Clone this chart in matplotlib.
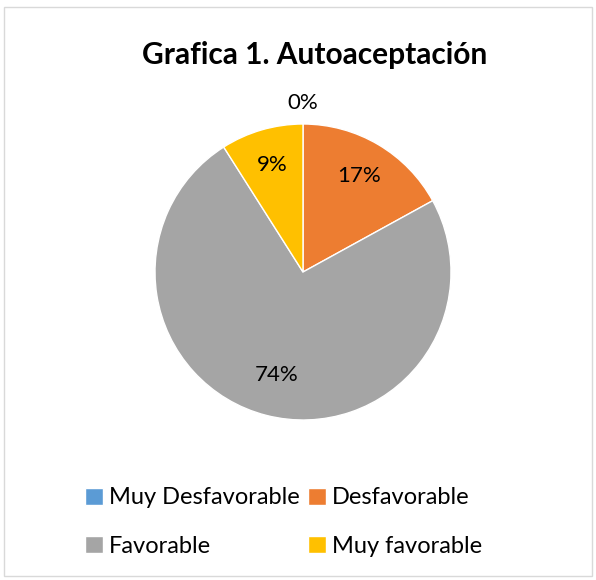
import matplotlib
matplotlib.use("Agg")
import matplotlib.pyplot as plt
from matplotlib.patches import Rectangle
import numpy as np

categories = ["Muy Desfavorable", "Desfavorable", "Favorable", "Muy favorable"]
values = [0, 17, 74, 9]
labels_pct = ["0%", "17%", "74%", "9%"]
colors = ["#5B9BD5", "#ED7D31", "#A5A5A5", "#FFC000"]
title = "Grafica 1. Autoaceptación"

plt.rcParams['font.family'] = ['Lato', 'DejaVu Sans']

W, H = 596, 580
fig = plt.figure(figsize=(W / 100, H / 100), dpi=100)

cx, cy, r = 303, 272, 148
ax = fig.add_axes([(cx - r) / W, (H - cy - r) / H, 2 * r / W, 2 * r / H])
wedges, _ = ax.pie(values, colors=colors, startangle=90, counterclock=False,
                   wedgeprops=dict(edgecolor="white", linewidth=1.0), radius=1)
ax.set_xlim(-1, 1)
ax.set_ylim(-1, 1)
ax.set_aspect("equal")
ax.axis("off")

for w, lab, v in zip(wedges, labels_pct, values):
    ang = np.deg2rad((w.theta1 + w.theta2) / 2)
    d = 0.75 if v > 0 else 1.14
    if v > 50:
        d = 0.72
    ax.text(d * np.cos(ang), d * np.sin(ang), lab, ha="center", va="center",
            fontsize=16, color="#000000", clip_on=False)

fig.text(315 / W, 1 - 55 / H, title, ha="center", va="center",
         fontsize=21.5, fontweight="bold", color="#000000")

order = [0, 2, 1, 3]
fig.legend([wedges[i] for i in order], [categories[i] for i in order],
           loc="upper left", ncol=2,
           bbox_to_anchor=(76 / W, 1 - 478 / H), frameon=False,
           fontsize=17, handlelength=0.75, handleheight=0.75,
           handletextpad=0.25, columnspacing=0.35, labelspacing=1.15,
           borderaxespad=0)

fig.patches.append(Rectangle((4 / W, 4 / H), 588 / W, 569 / H, transform=fig.transFigure,
                             fill=False, edgecolor="#D9D9D9", linewidth=1))

fig.savefig("out.png", dpi=100)
